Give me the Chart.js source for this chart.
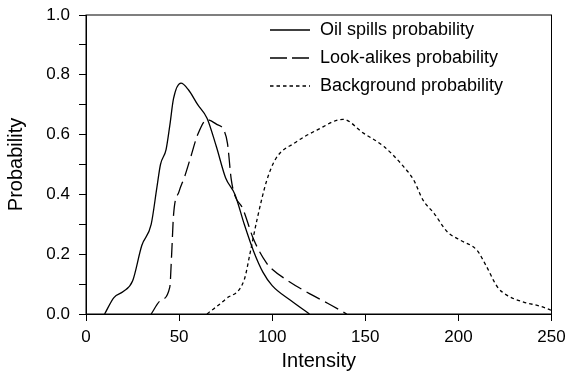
<!DOCTYPE html>
<html>
<head>
<meta charset="utf-8">
<script src="https://cdn.jsdelivr.net/npm/chart.js@4/dist/chart.umd.min.js"></script>
<style>
  html, body { margin: 0; padding: 0; background: #fff; }
  #wrap { width: 565px; height: 371px; position: relative; }
</style>
</head>
<body>
<div id="wrap"><canvas id="chart"></canvas></div>
<script>
// values
const oilX = [10, 15, 20, 25, 30, 35, 38, 40, 43, 45, 47, 51, 55, 60, 65, 70, 75, 80, 85, 90, 95, 100, 110, 120];
const oilY = [0, 0.055, 0.075, 0.11, 0.23, 0.3, 0.42, 0.5, 0.55, 0.63, 0.72, 0.772, 0.75, 0.7, 0.655, 0.56, 0.455, 0.4, 0.3, 0.21, 0.14, 0.095, 0.045, 0];

const lookX = [35, 40, 45, 46, 47, 50, 53, 56, 60, 65, 70, 74, 76, 78, 80, 84, 90, 97, 100, 108, 120, 130, 140];
const lookY = [0, 0.045, 0.09, 0.2, 0.33, 0.41, 0.46, 0.52, 0.6, 0.65, 0.635, 0.615, 0.57, 0.45, 0.395, 0.355, 0.25, 0.17, 0.15, 0.113, 0.068, 0.035, 0];

const bgX = [65, 75, 85, 88, 92, 97, 102, 112, 124, 138, 149, 160, 170, 176, 181, 187, 194, 201, 210, 215, 221, 226, 235, 244, 250];
const bgY = [0, 0.05, 0.115, 0.2, 0.32, 0.445, 0.52, 0.572, 0.615, 0.651, 0.605, 0.56, 0.497, 0.448, 0.381, 0.336, 0.275, 0.247, 0.213, 0.16, 0.09, 0.063, 0.04, 0.026, 0.012];

const seriesNames = ['Oil spills probability', 'Look-alikes probability', 'Background probability'];
const xTitle = 'Intensity';
const yTitle = 'Probability';

const FONT = 'Liberation Sans, Arial, sans-serif';

function pts(xs, ys) {
  return xs.map((x, i) => ({ x: x, y: ys[i] }));
}

// box round the plot area
const frame = {
  id: 'frame',
  afterDraw(chart) {
    const { ctx, chartArea: a } = chart;
    ctx.save();
    ctx.strokeStyle = '#000';
    ctx.lineWidth = 1;
    ctx.strokeRect(a.left, a.top, a.right - a.left, a.bottom - a.top);
    ctx.restore();
  }
};

// legend inside the plot, no box
const innerLegend = {
  id: 'innerLegend',
  afterDraw(chart) {
    const ctx = chart.ctx;
    ctx.save();
    ctx.font = '18px ' + FONT;
    ctx.textBaseline = 'middle';
    ctx.fillStyle = '#000';
    chart.data.datasets.forEach((ds, i) => {
      const y = 30 + i * 28;
      ctx.beginPath();
      ctx.setLineDash(ds.legendDash || []);
      ctx.strokeStyle = '#000';
      ctx.lineWidth = ds.borderWidth;
      ctx.moveTo(270, y);
      ctx.lineTo(310, y);
      ctx.stroke();
      ctx.setLineDash([]);
      ctx.fillText(ds.label, 320, y);
    });
    ctx.restore();
  }
};

const base = {
  borderColor: '#000',
  borderWidth: 1.3,
  pointRadius: 0,
  fill: false,
  showLine: true,
  cubicInterpolationMode: 'monotone'
};

new Chart(document.getElementById('chart'), {
  type: 'scatter',
  data: {
    datasets: [
      Object.assign({}, base, { label: seriesNames[0], data: pts(oilX, oilY) }),
      Object.assign({}, base, { label: seriesNames[1], data: pts(lookX, lookY), borderDash: [15, 6], legendDash: [17, 5] }),
      Object.assign({}, base, { label: seriesNames[2], data: pts(bgX, bgY), borderDash: [3.5, 3], legendDash: [3.5, 3] })
    ]
  },
  options: {
    responsive: true,
    maintainAspectRatio: false,
    animation: false,
    layout: { padding: { left: 0, right: 13.5, top: 15, bottom: 0 } },
    plugins: {
      legend: { display: false },
      tooltip: { enabled: false }
    },
    scales: {
      x: {
        type: 'linear',
        min: 0,
        max: 250,
        afterFit: s => { s.height = 57; s.paddingLeft = 0; s.paddingRight = 0; },
        ticks: {
          stepSize: 50,
          color: '#000',
          padding: 6,
          maxRotation: 0,
          font: { size: 17, family: FONT }
        },
        grid: { drawOnChartArea: false, drawTicks: true, tickLength: 7, color: '#000' },
        border: { display: true, color: '#000', width: 1 },
        title: {
          display: true,
          text: xTitle,
          color: '#000',
          font: { size: 20, family: FONT, lineHeight: 1 },
          padding: { top: 0, bottom: 0 }
        }
      },
      y: {
        min: 0,
        max: 1,
        afterFit: s => { s.width = 86; s.paddingTop = 0; s.paddingBottom = 0; },
        ticks: {
          stepSize: 0.1,
          color: '#000',
          padding: 9,
          font: { size: 17, family: FONT },
          callback: v => (Math.round(v * 10) % 2 === 0 ? v.toFixed(1) : '')
        },
        grid: { drawOnChartArea: false, drawTicks: true, tickLength: 7, color: '#000' },
        border: { display: true, color: '#000', width: 1 },
        title: {
          display: true,
          text: yTitle,
          color: '#000',
          font: { size: 20, family: FONT, lineHeight: 1.2 },
          padding: { top: 4, bottom: 0 }
        }
      }
    }
  },
  plugins: [frame, innerLegend]
});
</script>
</body>
</html>
